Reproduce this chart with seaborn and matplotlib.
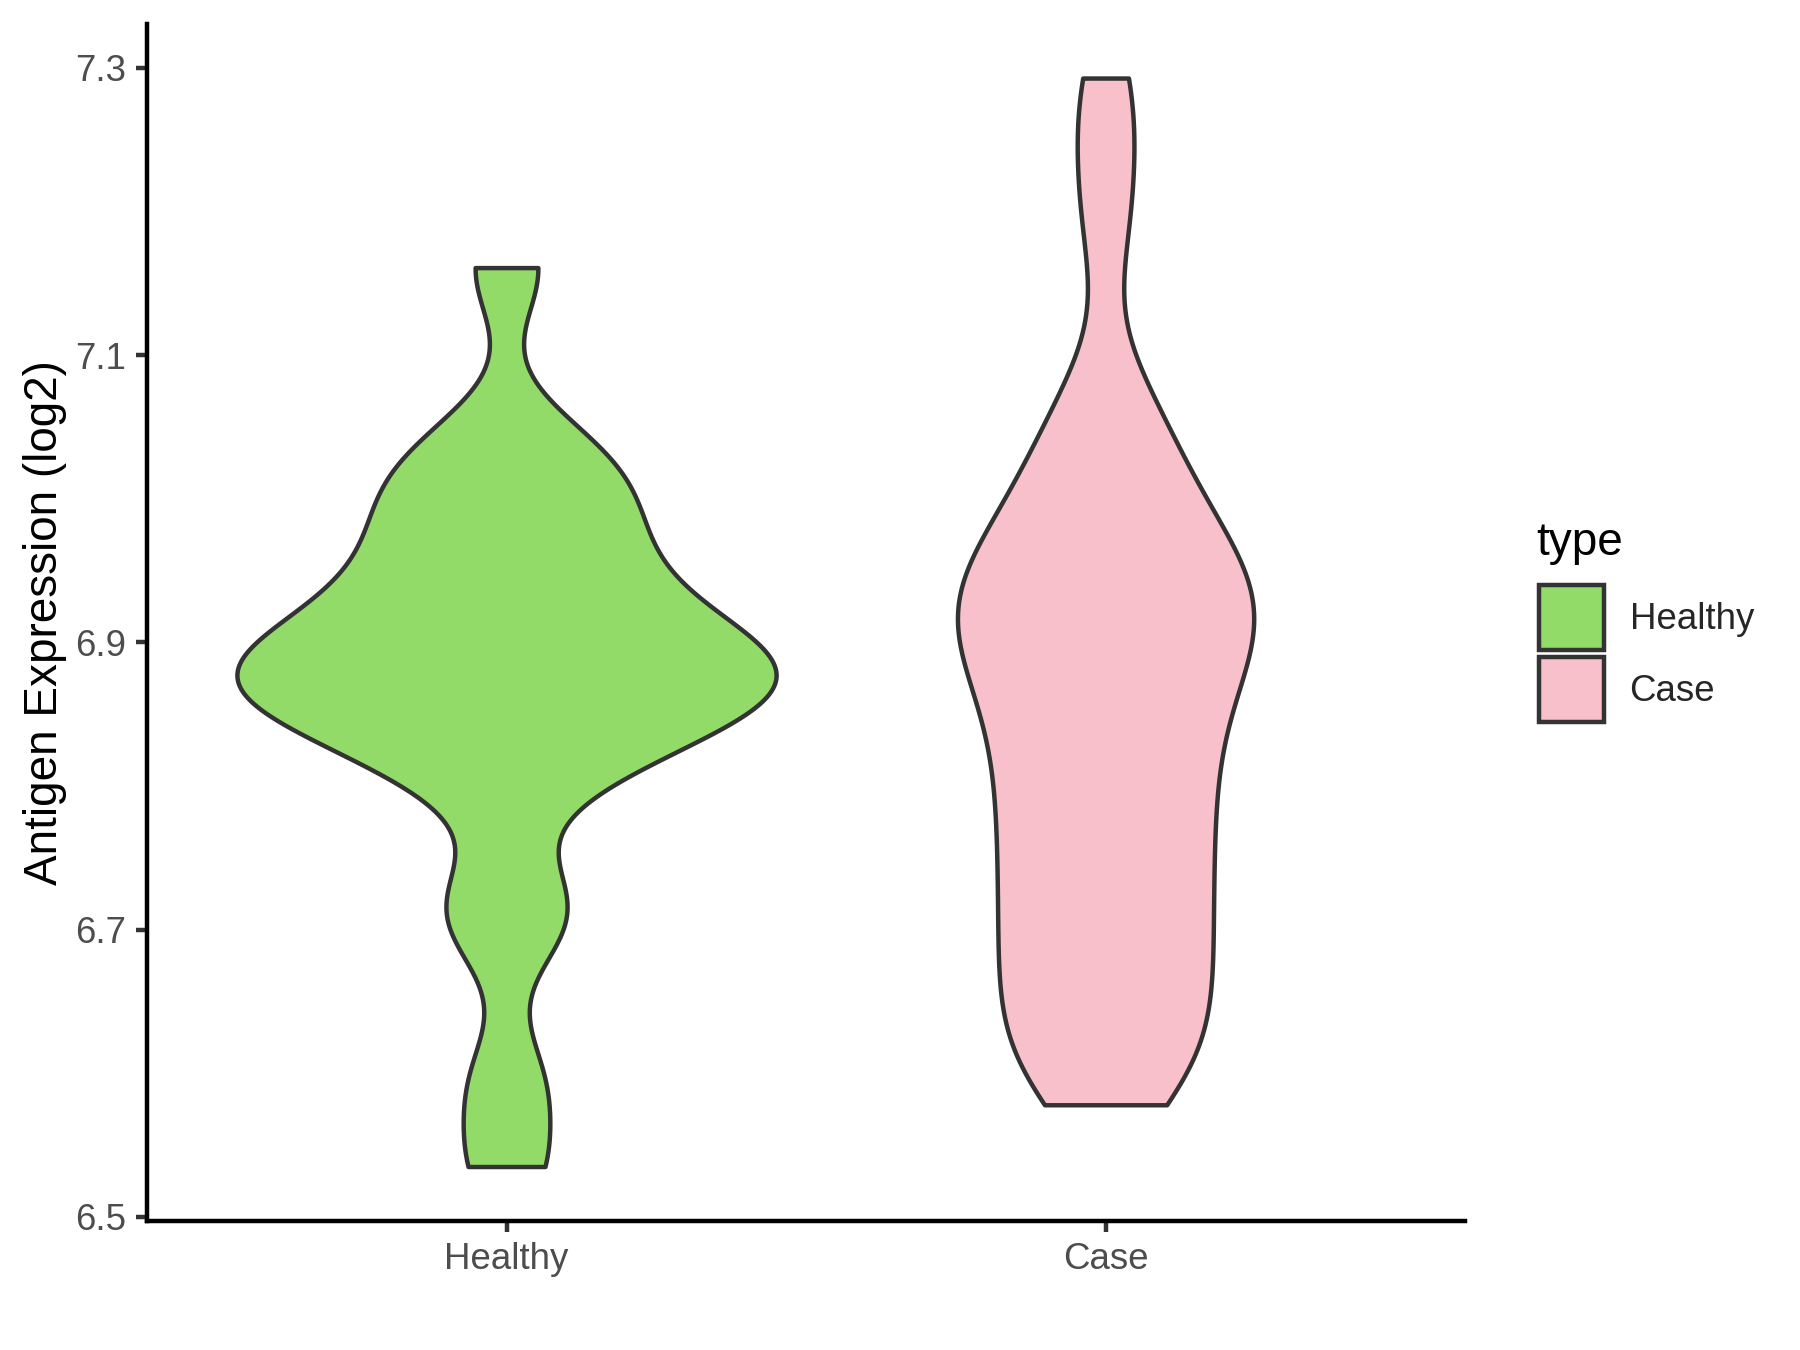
import numpy as np
import pandas as pd
import matplotlib
matplotlib.use("Agg")
import matplotlib.pyplot as plt
from matplotlib.patches import Patch
import seaborn as sns

categories = ["Healthy", "Case"]
healthy_values = [6.535, 6.595, 6.700, 6.725, 6.800, 6.825, 6.840, 6.850, 6.860,
                  6.868, 6.875, 6.882, 6.890, 6.898, 6.910, 6.925, 6.942, 6.962,
                  6.982, 7.002, 7.022, 7.042, 7.161]
case_values = [6.578, 6.593, 6.608, 6.623, 6.638, 6.653, 6.668, 6.683, 6.698,
               6.713, 6.728, 6.743, 6.758, 6.773, 6.788,
               6.802, 6.817, 6.832, 6.846, 6.860, 6.873, 6.885, 6.896, 6.906,
               6.915, 6.924, 6.933, 6.942, 6.951,
               6.962, 6.976, 6.991, 7.008, 7.028, 7.052, 7.078,
               7.185, 7.243, 7.293]
bandwidths = {"Healthy": 0.035, "Case": 0.045}
colors = {"Healthy": "#93DB69", "Case": "#F7C0CB"}
y_ticks = [6.5, 6.7, 6.9, 7.1, 7.3]
y_label = "Antigen Expression (log2)"
legend_title = "type"

df = pd.DataFrame({
    "type": ["Healthy"] * len(healthy_values) + ["Case"] * len(case_values),
    "value": healthy_values + case_values,
})

sns.set_theme(style="ticks")
plt.rcParams["font.family"] = ["Liberation Sans", "DejaVu Sans"]

fig = plt.figure(figsize=(6, 4.5), dpi=300)
ax = fig.add_axes([0.0817, 0.0956, 0.7322, 0.8869])


def group_bw(kde):
    data = np.asarray(kde.dataset).ravel()
    group = "Healthy" if np.isclose(data.max(), max(healthy_values)) else "Case"
    return bandwidths[group] / data.std(ddof=1)


sns.violinplot(data=df, x="type", y="value", hue="type", order=categories,
               hue_order=categories, palette=colors, cut=0, inner=None,
               density_norm="area", common_norm=True, bw_method=group_bw,
               width=0.9, linewidth=1.07, linecolor="#333333", saturation=1,
               gridsize=512, legend=False, ax=ax)

all_vals = healthy_values + case_values
lo, hi = min(all_vals), max(all_vals)
pad = 0.05 * (hi - lo)
ax.set_xlim(-0.6, 1.6)
ax.set_ylim(lo - pad, hi + pad)
ax.set_yticks(y_ticks)
ax.set_yticklabels([f"{t:.1f}" for t in y_ticks])
ax.set_xlabel("")
ax.set_ylabel(y_label, fontsize=11, color="black", labelpad=2.0)
ax.tick_params(axis="both", length=2.75, width=1.07, color="#333333",
               labelsize=8.8, labelcolor="#4D4D4D", pad=2.2)
for side in ["top", "right"]:
    ax.spines[side].set_visible(False)
for side in ["left", "bottom"]:
    ax.spines[side].set_color("black")
    ax.spines[side].set_linewidth(1.07)

# legend (ggplot-like: title above square keys, outside on the right)
fig.text(0.8533, 0.5889, legend_title, fontsize=11, color="black",
         ha="left", va="baseline")
handles = [Patch(facecolor=colors[c], edgecolor="#333333", linewidth=1.07)
           for c in categories]
fig.legend(handles, categories, loc="upper left",
           bbox_to_anchor=(0.855, 0.5663), frameon=False, fontsize=8.8,
           handlelength=1.77, handleheight=2.333, handletextpad=0.7,
           labelspacing=0.2, borderpad=0, borderaxespad=0)

fig.savefig("out.png", dpi=300)
